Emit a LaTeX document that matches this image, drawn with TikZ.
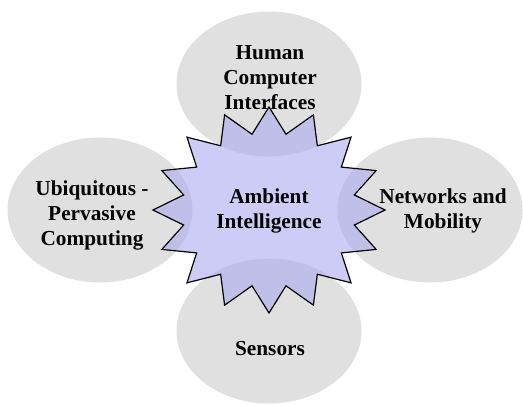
\documentclass[tikz,border=0pt]{standalone}
\usepackage{fontspec}
\setmainfont{Liberation Serif}
\usepackage{tikz}
\usetikzlibrary{positioning,shapes.geometric}
\definecolor{blobgray}{RGB}{224,224,224}
\definecolor{sealblue}{RGB}{170,170,240}
\tikzstyle{blob} = [ellipse, fill=blobgray, minimum width=185pt, minimum height=145pt, inner sep=0pt]
\tikzstyle{txt} = [align=center, inner sep=0pt, font=\fontsize{21.3}{25}\selectfont\bfseries]
\tikzstyle{seal} = [draw, line width=1.2pt, line join=miter, fill=sealblue, fill opacity=0.6]

\begin{document}
\begin{tikzpicture}[x=1pt, y=-1pt]
	\useasboundingbox (0,0) rectangle (523,405);
	\coordinate (c) at (269,210);
	% the four areas
	\node (hciE) [blob, above=126pt of c, anchor=center] {};
	\node (senE) [blob, below=121pt of c, anchor=center] {};
	\node (ubiE) [blob, left=169pt of c, anchor=center] {};
	\node (netE) [blob, right=161pt of c, anchor=center] {};
	% the 16 point star
	\draw [seal] plot[samples at={0,...,31}]
		({269+116*(1-0.25*mod(\x,2))*sin(11.25*\x)}, {210-103*(1-0.25*mod(\x,2))*cos(11.25*\x)}) -- cycle;
	\node (ami) [txt] at (269,211) {Ambient\\Intelligence};
	\node (hci) [txt] at (270,78) {Human\\Computer\\Interfaces};
	\node (ubi) [txt] at (92,215) {Ubiquitous -\\Pervasive\\Computing};
	\node (net) [txt] at (443,211) {Networks and\\Mobility};
	\node (sen) [txt] at (270,349) {Sensors};
\end{tikzpicture}
\end{document}
